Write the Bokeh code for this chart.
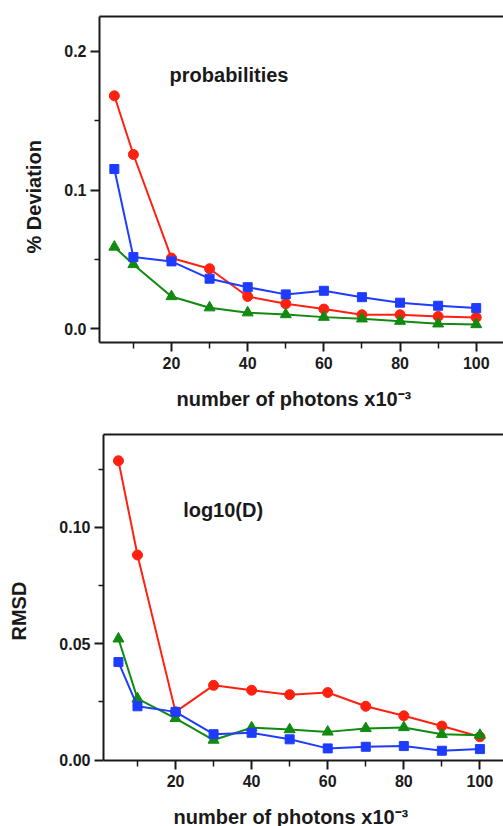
from bokeh.embed import file_html
from bokeh.layouts import column, row
from bokeh.models import (FixedTicker, Label, LinearAxis, PrintfTickFormatter, Range1d,
                          Spacer, Title)
from bokeh.plotting import figure
from bokeh.resources import INLINE

# number of photons (x10^-3)
photons = [5, 10, 20, 30, 40, 50, 60, 70, 80, 90, 100]

# % deviation of the recovered probabilities
prob_red = [0.168, 0.1257, 0.051, 0.0433, 0.0233, 0.018, 0.0142, 0.0101, 0.0101, 0.0089, 0.0082]
prob_blue = [0.1152, 0.0517, 0.0486, 0.0361, 0.0300, 0.0248, 0.0274, 0.0228, 0.0188, 0.0166, 0.0149]
prob_green = [0.059, 0.0464, 0.0233, 0.0152, 0.0116, 0.0103, 0.0084, 0.0072, 0.0055, 0.0036, 0.0031]

# RMSD of log10(D)
rmsd_red = [0.1286, 0.0881, 0.0207, 0.0321, 0.0300, 0.0281, 0.0290, 0.0231, 0.0190, 0.0146, 0.0100]
rmsd_blue = [0.0421, 0.0231, 0.0207, 0.0111, 0.0117, 0.0089, 0.0050, 0.0057, 0.0060, 0.0040, 0.0047]
rmsd_green = [0.0521, 0.0264, 0.0179, 0.0086, 0.0139, 0.0131, 0.0121, 0.0136, 0.0140, 0.0111, 0.0107]

x_major = [20, 40, 60, 80, 100]
x_minor = [10, 30, 50, 70, 90]
prob_major = [0.0, 0.1, 0.2]
prob_minor = [0.05, 0.15]
rmsd_major = [0.0, 0.05, 0.10]
rmsd_minor = [0.025, 0.075, 0.125]

x_title = "number of photons x10\u207b\u00b3"

FONT = "Liberation Sans"
INK = "#1a1a1a"
RED = "#ff2010"
GREEN = "#108a10"
BLUE = "#1e3cff"


def gap_axis(size, at):
    # a blank axis (hidden tick, empty label) that only reserves room before a title
    return LinearAxis(ticker=FixedTicker(ticks=[at]), formatter=PrintfTickFormatter(format=""),
                      axis_line_color=None, major_tick_line_color=None, minor_tick_line_color=None,
                      major_tick_in=0, major_tick_out=size, minor_tick_in=0, minor_tick_out=0,
                      major_label_standoff=0)


def title(text, align_offset, side_standoff, valign):
    return Title(text=text, align="left", offset=align_offset, standoff=side_standoff,
                 vertical_align=valign, text_font=FONT, text_font_style="bold",
                 text_font_size="20px", text_color=INK)


def panel(width, height, left, top, bottom, xr, yr, yticks, yminor, yfmt):
    p = figure(width=width, height=height, x_range=Range1d(*xr), y_range=Range1d(*yr),
               output_backend="svg", toolbar_location=None,
               min_border_left=left, min_border_right=0,
               min_border_top=top, min_border_bottom=bottom)
    p.outline_line_color = None
    p.grid.visible = False
    p.background_fill_color = "white"
    p.border_fill_color = "white"

    xa = p.xaxis[0]
    xa.ticker = FixedTicker(ticks=x_major, minor_ticks=x_minor)
    ya = p.yaxis[0]
    ya.ticker = FixedTicker(ticks=yticks, minor_ticks=yminor)
    ya.formatter = PrintfTickFormatter(format=yfmt)

    for ax, minor_len, standoff in ((xa, 6, 5), (ya, 5, 4)):
        ax.axis_line_width = 2
        ax.axis_line_color = INK
        ax.major_tick_in = 0
        ax.major_tick_out = 9
        ax.minor_tick_in = 0
        ax.minor_tick_out = minor_len
        ax.major_tick_line_width = 2
        ax.minor_tick_line_width = 1.5
        ax.major_tick_line_color = INK
        ax.minor_tick_line_color = INK
        ax.major_label_text_font = FONT
        ax.major_label_text_font_style = "bold"
        ax.major_label_text_font_size = "16px"
        ax.major_label_text_color = INK
        ax.major_label_standoff = standoff

    top_axis = LinearAxis(ticker=FixedTicker(ticks=[]), axis_line_width=2, axis_line_color=INK,
                          major_tick_out=0, minor_tick_out=0, major_label_text_font_size="0px")
    p.add_layout(top_axis, "above")
    return p


def series(p, ys, color, marker, size):
    p.line(photons, ys, line_color=color, line_width=2)
    p.scatter(photons, ys, marker=marker, size=size, fill_color=color, line_color=color)


def note(p, x, y, s):
    p.add_layout(Label(x=x, y=y, text=s, text_baseline="top", text_align="left",
                       text_font=FONT, text_font_style="bold", text_font_size="20px",
                       text_color=INK))


# upper panel: probabilities
p1 = panel(503, 410, 99, 16, 68, (1.10, 107.16), (-0.0099, 0.2252), prob_major, prob_minor, "%.1f")
series(p1, prob_red, RED, "circle", 10)
series(p1, prob_green, GREEN, "triangle", 11)
series(p1, prob_blue, BLUE, "square", 9)
note(p1, 19.5, 0.1913, "probabilities")
p1.add_layout(gap_axis(17, 0.05), "left")
p1.add_layout(title("% Deviation", 89, 0, "bottom"), "left")
p1.add_layout(gap_axis(23, 50), "below")
p1.add_layout(title(x_title, 77, -14, "top"), "below")

# lower panel: log10(D)
p2 = panel(499, 416, 99, 24, 66, (1.07, 106.2), (-0.0002, 0.1399), rmsd_major, rmsd_minor, "%.2f")
series(p2, rmsd_red, RED, "circle", 10)
series(p2, rmsd_green, GREEN, "triangle", 11)
series(p2, rmsd_blue, BLUE, "square", 9)
note(p2, 22.0, 0.1122, "log10(D)")
p2.add_layout(gap_axis(27, 0.05), "left")
p2.add_layout(title("RMSD", 120, 0, "bottom"), "left")
p2.add_layout(gap_axis(23, 50), "below")
p2.add_layout(title(x_title, 70, -14, "top"), "below")

layout = column(p1, row(Spacer(width=4, height=416), p2, spacing=0), spacing=0)
open("out.html", "w").write(file_html(layout, INLINE))
